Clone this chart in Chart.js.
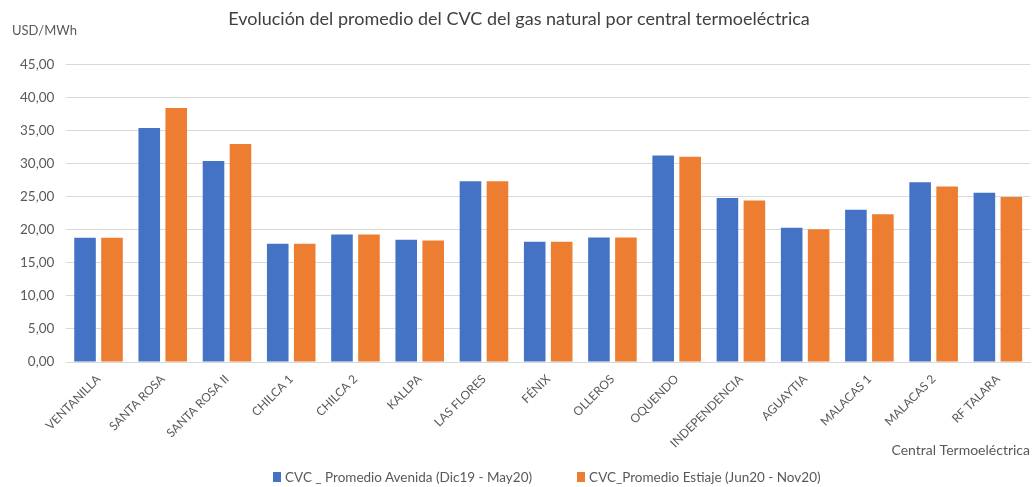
<!DOCTYPE html>
<html>
<head>
<meta charset="utf-8">
<script src="https://cdn.jsdelivr.net/npm/chart.js@4.4.1/dist/chart.umd.min.js"></script>
<style>
  html, body { margin: 0; padding: 0; background: #fff; }
  #wrap { width: 1034px; height: 487px; position: relative; }
  #legend {
    position: absolute; left: 273px; top: 469px;
    display: flex; gap: 45px; white-space: nowrap;
    font: 13.5px/16px Lato, "Noto Sans", sans-serif; color: #595959;
  }
  #legend .item { display: flex; align-items: center; }
  #legend .box { width: 8px; height: 10px; margin-right: 4px; display: inline-block; }
</style>
</head>
<body>
<div id="wrap"><canvas id="cvcChart"></canvas><div id="legend"></div></div>
<script>
  // Data
  const centrales = ['VENTANILLA', 'SANTA ROSA', 'SANTA ROSA II', 'CHILCA 1', 'CHILCA 2', 'KALLPA',
    'LAS FLORES', 'FÉNIX', 'OLLEROS', 'OQUENDO', 'INDEPENDENCIA', 'AGUAYTIA', 'MALACAS 1',
    'MALACAS 2', 'RF TALARA'];
  const avenida = [18.8, 35.4, 30.4, 17.9, 19.3, 18.5, 27.35, 18.2, 18.85, 31.25, 24.8, 20.3, 23.05, 27.2, 25.6];
  const estiaje = [18.8, 38.45, 33.0, 17.9, 19.3, 18.4, 27.35, 18.2, 18.85, 31.05, 24.45, 20.1, 22.35, 26.55, 24.95];
  const seriesNames = ['CVC _ Promedio Avenida (Dic19 - May20)', 'CVC_Promedio Estiaje (Jun20 - Nov20)'];

  const colors = {
    blue: '#4472C4',
    orange: '#ED7D31',
    grid: '#d9d9d9',
    text: '#595959',
    title: '#404040'
  };

  const fontFamily = 'Lato, "Noto Sans", sans-serif';

  // Unit label top-left
  const unitLabel = {
    id: 'unitLabel',
    afterDraw(chart) {
      const ctx = chart.ctx;
      ctx.save();
      ctx.font = '13px ' + fontFamily;
      ctx.fillStyle = colors.text;
      ctx.textBaseline = 'middle';
      ctx.fillText('USD/MWh', 12, 31);
      ctx.restore();
    }
  };

  // HTML legend built from the chart's own legend items (wider gap than the built-in one allows)
  const htmlLegend = {
    id: 'htmlLegend',
    afterUpdate(chart) {
      const el = document.getElementById('legend');
      el.innerHTML = '';
      chart.options.plugins.legend.labels.generateLabels(chart).forEach(item => {
        const div = document.createElement('div');
        div.className = 'item';
        const box = document.createElement('span');
        box.className = 'box';
        box.style.background = item.fillStyle;
        div.appendChild(box);
        div.appendChild(document.createTextNode(item.text));
        el.appendChild(div);
      });
    }
  };

  new Chart(document.getElementById('cvcChart'), {
    type: 'bar',
    data: {
      labels: centrales,
      datasets: [{
        label: seriesNames[0],
        data: avenida,
        backgroundColor: colors.blue,
        categoryPercentage: 0.84,
        barPercentage: 0.8
      }, {
        label: seriesNames[1],
        data: estiaje,
        backgroundColor: colors.orange,
        categoryPercentage: 0.84,
        barPercentage: 0.8
      }]
    },
    options: {
      responsive: true,
      maintainAspectRatio: false,
      animation: false,
      layout: { padding: { left: 8, right: 4, top: 0, bottom: 24 } },
      plugins: {
        title: {
          display: true,
          text: 'Evolución del promedio del CVC del gas natural por central termoeléctrica',
          color: colors.title,
          font: { family: fontFamily, size: 18, weight: 'normal' },
          padding: { top: 8, bottom: 35 }
        },
        legend: { display: false },
        tooltip: { enabled: false }
      },
      scales: {
        x: {
          grid: { display: false },
          border: { color: colors.grid },
          afterFit(scale) { scale.height = 101; },
          ticks: {
            color: colors.text,
            font: { family: fontFamily, size: 12 },
            minRotation: 45,
            maxRotation: 45,
            autoSkip: false,
            padding: 2
          },
          title: {
            display: true,
            text: 'Central Termoeléctrica',
            align: 'end',
            color: colors.text,
            font: { family: fontFamily, size: 14 },
            padding: { top: 0, bottom: 4 }
          }
        },
        y: {
          min: 0,
          max: 45,
          border: { display: false },
          grid: { color: colors.grid, drawTicks: false },
          ticks: {
            stepSize: 5,
            color: colors.text,
            font: { family: fontFamily, size: 13.5 },
            padding: 12,
            callback: v => v.toFixed(2).replace('.', ',')
          }
        }
      }
    },
    plugins: [unitLabel, htmlLegend]
  });
</script>
</body>
</html>
